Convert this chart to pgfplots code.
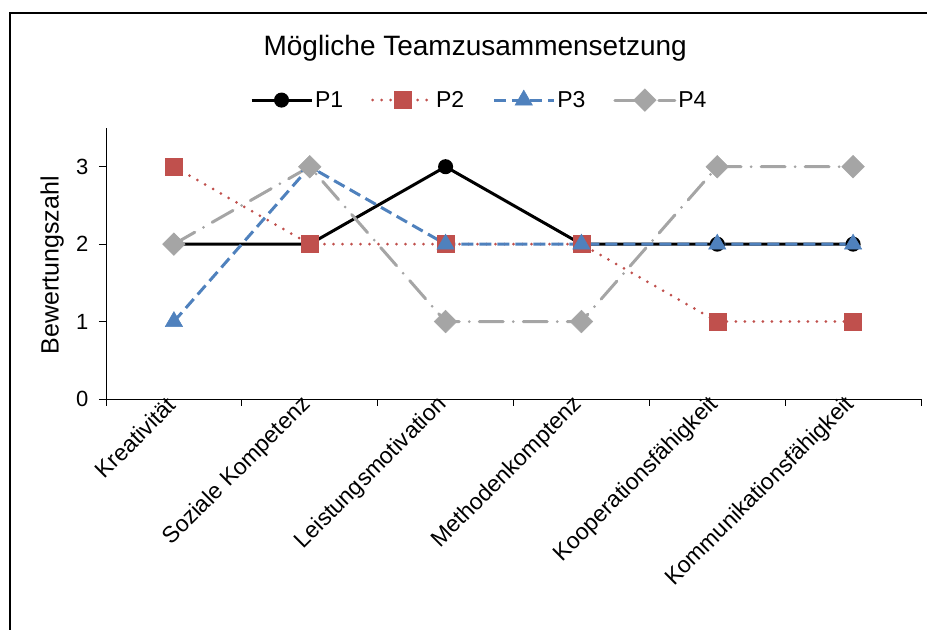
\documentclass[border=0pt]{standalone}
\usepackage{pgfplots}
\pgfplotsset{compat=1.18}
\usepackage{fontspec}
\setmainfont{Liberation Sans}
\definecolor{cP2}{HTML}{C0504D}
\definecolor{cP3}{HTML}{4F81BD}
\definecolor{cP4}{HTML}{A5A5A5}
\newcommand{\fs}{\fontsize{22bp}{26bp}\selectfont}
\newcommand{\fx}{\fontsize{23bp}{27bp}\selectfont}
\begin{document}
\begin{tikzpicture}[x=1bp,y=1bp]
\path[use as bounding box] (0,0) rectangle (927,630);
\draw[line width=2.2bp] (10,-5) -- (10,617) -- (932,617);
\begin{axis}[
  at={(106bp,231bp)}, anchor=south west,
  scale only axis, width=815bp, height=271bp,
  xmin=0, xmax=6, ymin=0, ymax=3.5,
  axis x line*=bottom, axis y line*=left,
  axis line style={line width=0.9bp, black},
  tick style={line width=0.9bp, black},
  tick align=outside, major tick length=7bp,
  ytick={0,1,2,3},
  xtick={0,1,2,3,4,5,6}, xticklabels={},
  extra x ticks={0.5,1.5,2.5,3.5,4.5,5.5},
  extra x tick labels={Kreativität,Soziale Kompetenz,Leistungsmotivation,Methodenkomptenz,Kooperationsfähigkeit,Kommunikationsfähigkeit},
  extra x tick style={major tick length=0pt, tick label style={rotate=45, anchor=east, font=\fx}},
  /pgf/number format/assume math mode=true,
  yticklabel style={font=\fs, xshift=-7bp},
  ylabel={Bewertungszahl},
  ylabel style={font=\fontsize{25bp}{29bp}\selectfont, at={(-0.066,0.494)}, anchor=center},
  title={Mögliche Teamzusammensetzung},
  title style={font=\fontsize{28bp}{32bp}\selectfont, at={(0.453,1.272)}, anchor=center},
  legend columns=4,
  legend style={draw=none, fill=none, font=\fx, at={(0.458,1.103)}, anchor=center,
    /tikz/every even column/.append style={column sep=26bp}},
  legend image code/.code={\draw[mark repeat=2,mark phase=2] plot coordinates {(0bp,0bp) (30bp,0bp) (60bp,0bp)};},
  clip=false,
]
\addplot[black, line width=3bp, mark=*, mark size=6bp, mark options={solid}]
  coordinates {(0.5,2) (1.5,2) (2.5,3) (3.5,2) (4.5,2) (5.5,2)};
\addlegendentry{P1}
\addplot[cP2, line width=3bp, line cap=round, dash pattern=on 0bp off 9bp, mark=square*, mark size=8.5bp, mark options={solid, fill=cP2, line width=0.5bp}]
  coordinates {(0.5,3) (1.5,2) (2.5,2) (3.5,2) (4.5,1) (5.5,1)};
\addlegendentry{P2}
\addplot[cP3, line width=3bp, dash pattern=on 12bp off 6bp, mark=triangle*, mark size=10bp, mark options={solid, fill=cP3, line width=0.5bp}]
  coordinates {(0.5,1) (1.5,3) (2.5,2) (3.5,2) (4.5,2) (5.5,2)};
\addlegendentry{P3}
\addplot[cP4, line width=3bp, line cap=round, dash pattern=on 24bp off 10bp on 0bp off 10bp, mark=square*, mark size=8bp, mark options={solid, fill=cP4, rotate=45, line width=0.5bp}]
  coordinates {(0.5,2) (1.5,3) (2.5,1) (3.5,1) (4.5,3) (5.5,3)};
\addlegendentry{P4}
\end{axis}
\end{tikzpicture}
\end{document}
